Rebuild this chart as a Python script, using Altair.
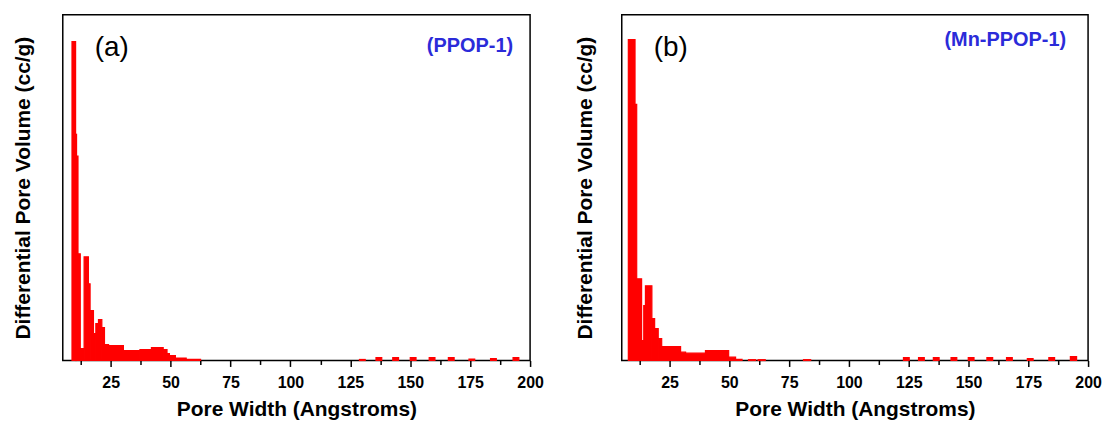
import altair as alt
import pandas as pd

# ---- Panel (a): PPOP-1 (bin left edge, bin right edge, differential pore volume) ----
a_left = [8.85, 10.35, 10.75, 11.35, 12.3, 13.9, 15.7, 16.4, 17.8, 18.8, 19.9, 21.3, 22.4,
          24.1, 30.3, 37.2, 42.0, 46.9, 48.5, 49.5, 52.0, 56.5,
          128.8, 135.7, 142.7, 150.0, 157.9, 165.9, 174.5, 183.5, 192.9]
a_right = [10.35, 10.75, 11.35, 12.3, 13.9, 15.7, 16.4, 17.8, 18.8, 19.9, 21.3, 22.4, 24.1,
           30.3, 37.2, 42.0, 46.9, 48.5, 49.5, 52.0, 56.5, 62.5,
           131.2, 138.1, 145.1, 152.4, 160.3, 168.3, 176.9, 185.9, 195.3]
a_vol = [0.320, 0.227, 0.205, 0.107, 0.012, 0.104, 0.077, 0.050, 0.027, 0.037, 0.041, 0.033, 0.016,
         0.015, 0.010, 0.011, 0.013, 0.011, 0.007, 0.005, 0.0025, 0.0012,
         0.001, 0.003, 0.003, 0.003, 0.003, 0.003, 0.0015, 0.002, 0.003]

# ---- Panel (b): Mn-PPOP-1 ----
b_left = [7.75, 10.55, 11.25, 13.3, 14.2, 14.9, 17.6, 18.75, 20.25, 21.7, 29.6, 31.7, 40.0,
          49.7, 52.6, 58.0, 62.0, 81.0,
          122.8, 129.1, 135.3, 142.7, 149.9, 157.7, 165.9, 174.6, 183.6, 192.6]
b_right = [10.55, 11.25, 13.3, 14.2, 14.9, 17.6, 18.75, 20.25, 21.7, 29.6, 31.7, 40.0, 49.7,
           52.6, 55.3, 61.0, 65.0, 84.0,
           125.2, 131.5, 137.7, 145.1, 152.3, 160.1, 168.3, 177.0, 186.0, 195.2]
b_vol = [0.322, 0.257, 0.082, 0.020, 0.055, 0.075, 0.042, 0.032, 0.022, 0.014, 0.0083, 0.0073, 0.010,
         0.0033, 0.0012, 0.0008, 0.0008, 0.0008,
         0.003, 0.003, 0.003, 0.003, 0.003, 0.003, 0.003, 0.002, 0.003, 0.004]

major_ticks = [25, 50, 75, 100, 125, 150, 175, 200]
minor_ticks = [12.5, 37.5, 62.5, 87.5, 112.5, 137.5, 162.5, 187.5]

FONT = "Liberation Sans"
RED = "#ff0000"
BLUE = "#2b2bd9"


def panel(left, right, vol, tag, sample, sample_y, width, ytitle_pad, tag_x, sample_x):
    df = pd.DataFrame({"x0": left, "x1": right, "v": vol})
    xscale = alt.Scale(domain=[5, 200], nice=False, zero=False)
    yscale = alt.Scale(domain=[0, 0.347], nice=False)

    bars = alt.Chart(df).mark_rect(fill=RED, stroke=RED, strokeWidth=1.2, strokeJoin="miter").encode(
        x=alt.X("x0:Q", scale=xscale,
                axis=alt.Axis(values=major_ticks, orient="bottom", tickSize=6, tickWidth=1.5,
                              tickColor="black", labelFontSize=16, labelFontWeight="bold",
                              labelFont=FONT, labelColor="black", labelPadding=8,
                              title="Pore Width (Angstroms)", titleFont=FONT,
                              titleFontSize=21, titleFontWeight="bold", titleColor="black",
                              titlePadding=8, grid=False, domain=False, labelFlush=False)),
        x2="x1:Q",
        y=alt.Y("v:Q", scale=yscale,
                axis=alt.Axis(labels=False, ticks=False, grid=False, domain=False,
                              title="Differential Pore Volume (cc/g)", titleFont=FONT,
                              titleFontSize=21, titleFontWeight="bold", titleColor="black",
                              titlePadding=ytitle_pad)),
        y2=alt.datum(0),
    )

    minor = alt.Chart(pd.DataFrame({"t": minor_ticks})).mark_point(opacity=0).encode(
        x=alt.X("t:Q", scale=xscale,
                axis=alt.Axis(values=minor_ticks, orient="bottom", labels=False, tickSize=4,
                              tickWidth=1.5, tickColor="black", domain=False, grid=False,
                              title=None)),
    )

    tag_text = alt.Chart(pd.DataFrame({"t": [tag]})).mark_text(
        align="left", baseline="middle", fontSize=28, font=FONT, color="black"
    ).encode(text="t:N", x=alt.value(tag_x), y=alt.value(33))

    sample_text = alt.Chart(pd.DataFrame({"t": [sample]})).mark_text(
        align="right", baseline="middle", fontSize=20, font=FONT, fontWeight="bold", color=BLUE
    ).encode(text="t:N", x=alt.value(sample_x), y=alt.value(sample_y))

    return alt.layer(bars, minor, tag_text, sample_text).resolve_axis(x="independent").properties(
        width=width, height=347
    )


pa = panel(a_left, a_right, a_vol, "(a)", "(PPOP-1)", 31, 469, 29, 32, 452)
pb = panel(b_left, b_right, b_vol, "(b)", "(Mn-PPOP-1)", 25, 468, 26, 32, 446)

chart = alt.hconcat(pa, pb, spacing=29).properties(
    padding={"left": 12, "top": 13, "right": 5, "bottom": 5},
    background="white",
).configure_view(stroke="black", strokeWidth=1.5)

chart.save("out.html", embed_options={"renderer": "svg", "actions": False})
